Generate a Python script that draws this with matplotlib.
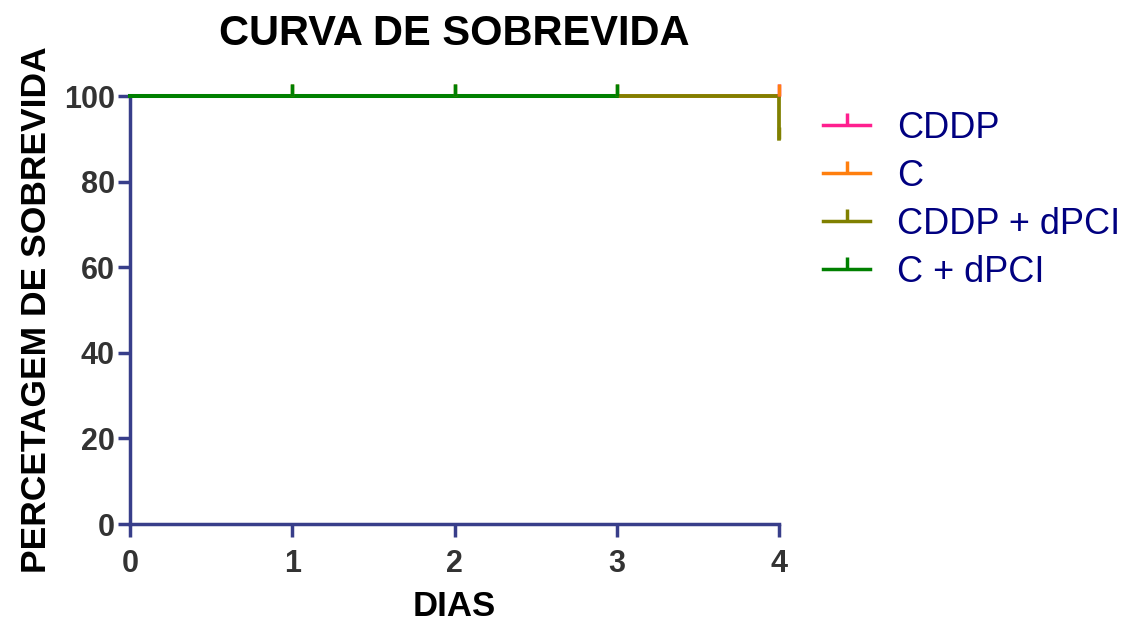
import numpy as np
import matplotlib
matplotlib.use("Agg")
import matplotlib.pyplot as plt
from matplotlib.lines import Line2D

plt.rcParams['font.family'] = ['Liberation Sans', 'DejaVu Sans']

# survival data (days, % survival) and censored points
groups = ['CDDP', 'C', 'CDDP + dPCI', 'C + dPCI']
colors = ['#ff1f8f', '#ff7f0e', '#808000', '#008000']
step_days = [[0, 4], [0, 4], [0, 4, 4], [0, 3]]
step_surv = [[100, 100], [100, 100], [100, 100, 90], [100, 100]]
cens_days = [[4], [4], [1, 2, 3, 4], [1, 2, 3]]
cens_surv = [[100], [100], [100, 100, 100, 90], [100, 100, 100]]

x_ticks = [0, 1, 2, 3, 4]
y_ticks = [0, 20, 40, 60, 80, 100]

axis_col = '#383e8a'
tick_lbl_col = '#333333'
legend_col = '#000080'

# upward censor tick marker
cens_marker = [(0, 0), (0, 1)]

fig = plt.figure(figsize=(11.26, 6.23), dpi=100)
ax = fig.add_axes([130 / 1126, 1 - 524 / 623, (779 - 130) / 1126, (524 - 96) / 623])

for i, (g, c, sd, ss, cd, cs) in enumerate(zip(groups, colors, step_days, step_surv,
                                                 cens_days, cens_surv)):
    ax.step(sd, ss, where='post', color=c, lw=2.3 + 0.2 * i, clip_on=False,
            zorder=3 + i * 0.1, snap=False)
    ax.plot(cd, cs, ls='none', marker=cens_marker, ms=17, mew=2.5, color=c,
            clip_on=False, zorder=4)

ax.set_xlim(0, 4)
ax.set_ylim(0, 100)
ax.set_xticks(x_ticks)
ax.set_yticks(y_ticks)
for s in ['top', 'right']:
    ax.spines[s].set_visible(False)
for s in ['left', 'bottom']:
    ax.spines[s].set_color(axis_col)
    ax.spines[s].set_linewidth(2.5)
ax.tick_params(direction='out', length=9, width=2.5, color=axis_col,
               labelcolor=tick_lbl_col, labelsize=22)
ax.tick_params(axis='x', pad=9)
ax.tick_params(axis='y', pad=2)
for lbl in ax.get_xticklabels() + ax.get_yticklabels():
    lbl.set_fontweight('bold')

ax.set_xlabel('DIAS', fontsize=25, fontweight='bold', labelpad=8)
ax.set_ylabel('PERCETAGEM DE SOBREVIDA', fontsize=25.5, fontweight='bold', labelpad=8)
ax.set_title('CURVA DE SOBREVIDA', fontsize=30, fontweight='bold', pad=37)

handles = [Line2D([0], [0], color=c, lw=2.5, marker=cens_marker, ms=17, mew=2.5)
           for c in colors]
leg = ax.legend(handles, groups, loc='upper left', bbox_to_anchor=(1.068, 0.966),
                frameon=False, fontsize=26, handlelength=1.3, handletextpad=0.75,
                labelspacing=0.36, numpoints=1, borderpad=0, borderaxespad=0)
for t in leg.get_texts():
    t.set_color(legend_col)

fig.savefig('out.png', dpi=100)
